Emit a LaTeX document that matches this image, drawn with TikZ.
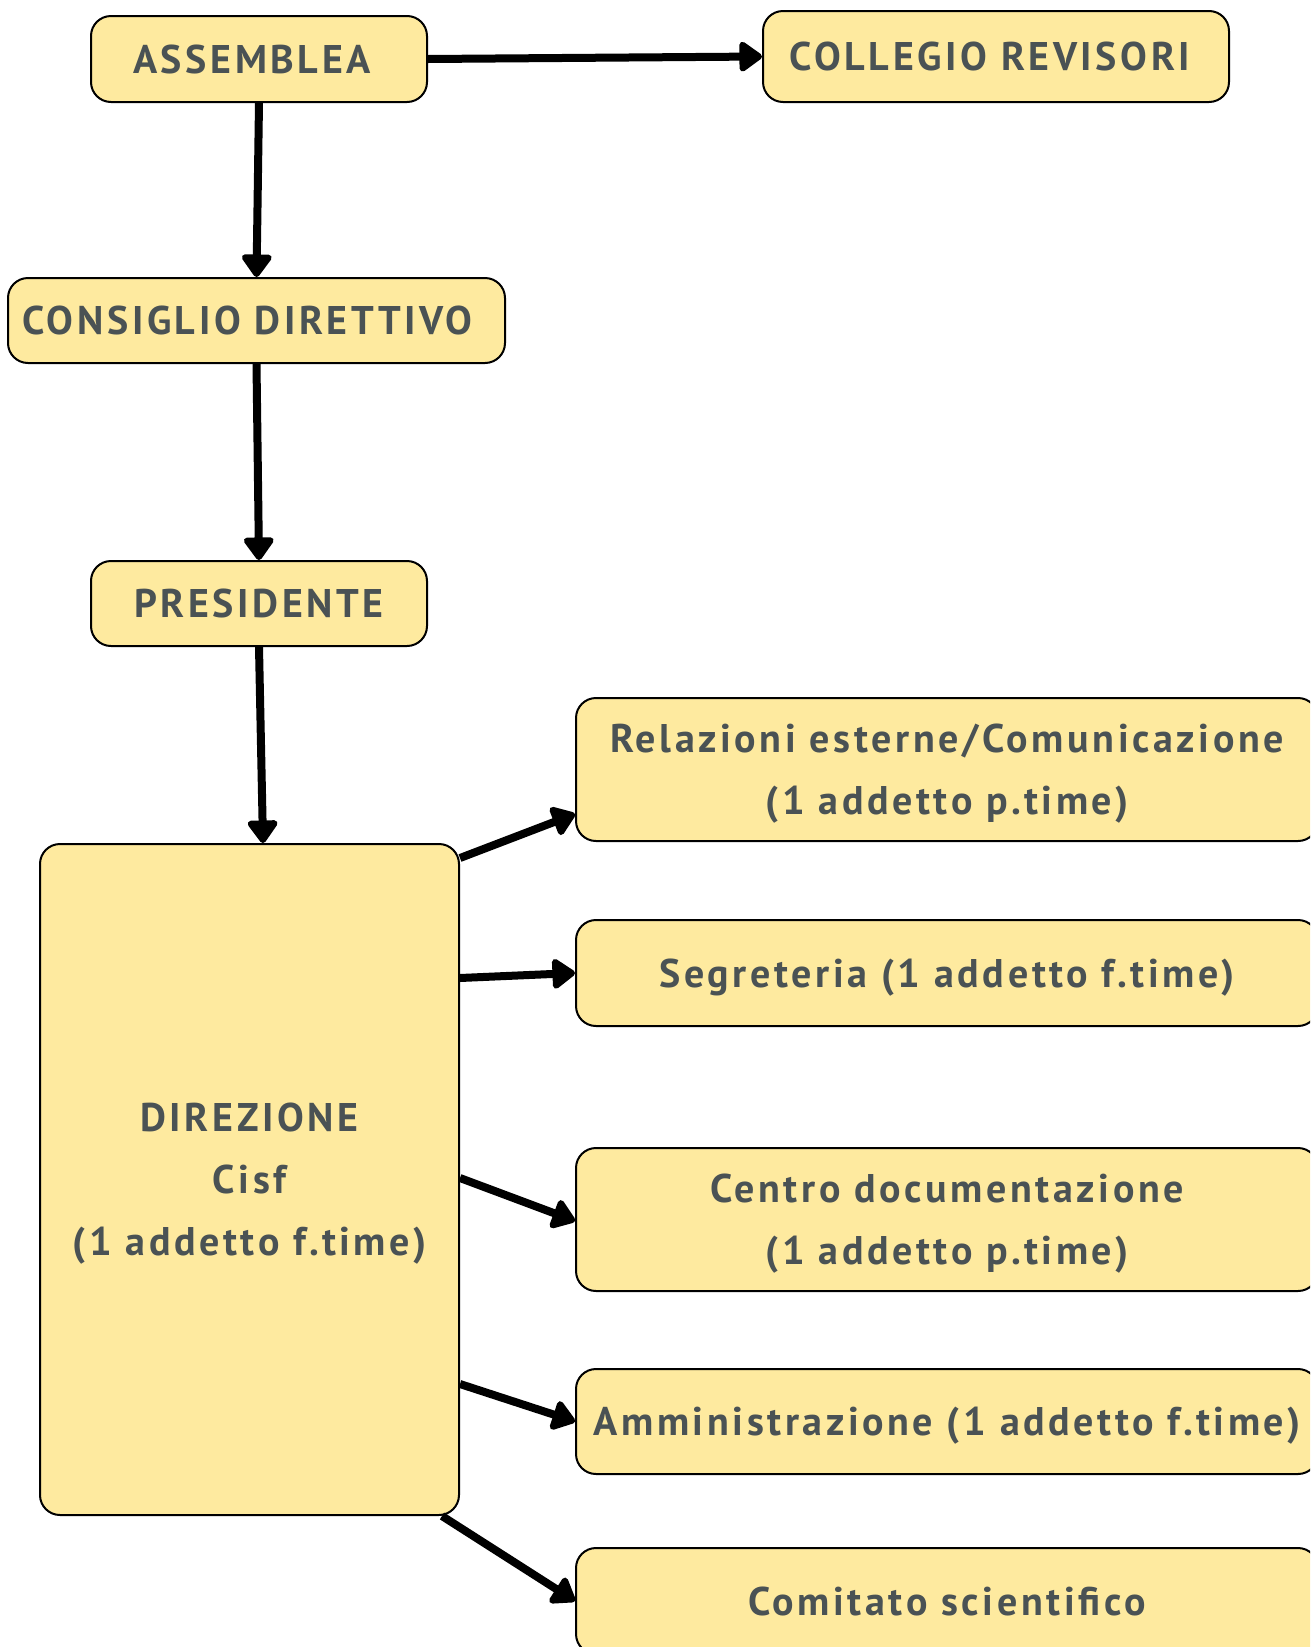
\documentclass[tikz,border=0pt]{standalone}
\usepackage{fontspec}
\setmainfont{PT Sans}[LetterSpace=9]
\usetikzlibrary{arrows.meta}
\definecolor{boxfill}{HTML}{FEEA9F}
\definecolor{boxtext}{HTML}{4A5254}
\tikzset{
  orgbox/.style={draw=black, line width=2pt, fill=boxfill, rounded corners=20pt,
    text=boxtext, font=\bfseries\fontsize{40}{62}\selectfont, align=center,
    inner sep=0pt, anchor=center, text depth=0pt},
  link/.style={line width=8pt, -{Triangle[length=25pt, width=34pt, round]}},
}
\begin{document}
\begin{tikzpicture}[x=1pt, y=-1pt]
\clip (0,0) rectangle (1310,1647);
\useasboundingbox (0,0) rectangle (1310,1647);
\node[orgbox, minimum width=336pt, minimum height=86pt] (ass) at (259,59) {ASSEMBLEA\hspace*{14pt}};
\node[orgbox, minimum width=466pt, minimum height=91pt] (col) at (996,56.5) {COLLEGIO REVISORI\hspace*{12pt}};
\node[orgbox, minimum width=497pt, minimum height=85pt] (cons) at (256.5,320.5) {CONSIGLIO DIRETTIVO\hspace*{18pt}};
\node[orgbox, minimum width=336pt, minimum height=85pt] (pres) at (259,603.5) {PRESIDENTE};
\node[orgbox, minimum width=419pt, minimum height=671pt] (dir) at (249.5,1179.5) {DIREZIONE\\Cisf\\(1 addetto f.time)};
\node[orgbox, minimum width=742pt, minimum height=143pt] (rel) at (947,769.5) {Relazioni esterne/Comunicazione\\(1 addetto p.time)};
\node[orgbox, minimum width=742pt, minimum height=106pt] (seg) at (947,973) {Segreteria (1 addetto f.time)};
\node[orgbox, minimum width=742pt, minimum height=143pt] (cen) at (947,1219.5) {Centro documentazione\\(1 addetto p.time)};
\node[orgbox, minimum width=742pt, minimum height=105pt] (amm) at (947,1421.5) {Amministrazione (1 addetto f.time)};
\node[orgbox, minimum width=742pt, minimum height=106pt] (com) at (947,1601) {Comitato scientifico};

\draw[link] (ass.east) -- (col.west);
\draw[link] (ass.south) -- (cons.north);
\draw[link] (cons.south) -- (pres.north);
\draw[link] (pres.south) -- ([xshift=13.5pt]dir.north);
\draw[link] ([yshift=-15pt]dir.north east) -- ([yshift=-44.5pt]rel.west);
\draw[link] ([yshift=-135pt]dir.north east) -- (seg.west);
\draw[link] ([yshift=-335pt]dir.north east) -- ([yshift=-1.5pt]cen.west);
\draw[link] ([yshift=-541pt]dir.north east) -- (amm.west);
\draw[link] ([xshift=-18pt]dir.south east) -- (com.west);
\end{tikzpicture}
\end{document}
